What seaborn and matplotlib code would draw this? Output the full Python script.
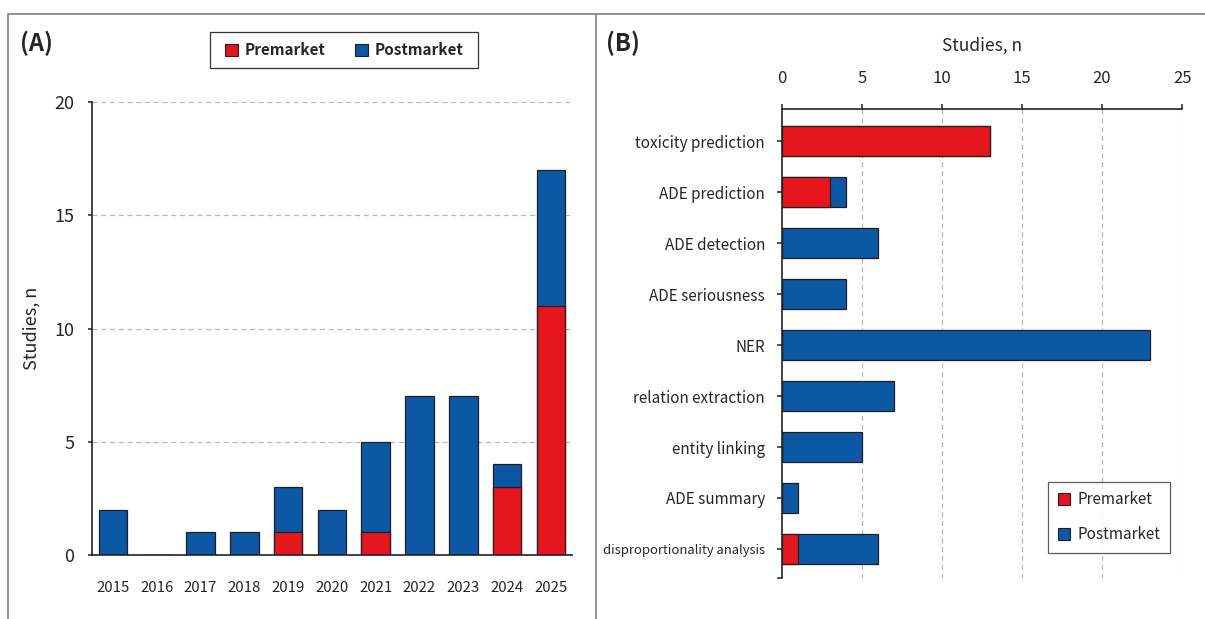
import matplotlib
matplotlib.use("Agg")
import matplotlib.pyplot as plt
from matplotlib.patches import Patch, Rectangle
from matplotlib.lines import Line2D
import seaborn as sns
import pandas as pd
import numpy as np

# ---- data -------------------------------------------------------------
years = ["2015", "2016", "2017", "2018", "2019", "2020", "2021", "2022", "2023", "2024", "2025"]
year_premarket = [0, 0, 0, 0, 1, 0, 1, 0, 0, 3, 11]
year_postmarket = [2, 0, 1, 1, 2, 2, 4, 7, 7, 1, 6]

tasks = ["toxicity prediction", "ADE prediction", "ADE detection", "ADE seriousness", "NER",
         "relation extraction", "entity linking", "ADE summary", "disproportionality analysis"]
task_premarket = [13, 3, 0, 0, 0, 0, 0, 0, 1]
task_postmarket = [0, 1, 6, 4, 23, 7, 5, 1, 5]

series_labels = ["Premarket", "Postmarket"]
RED = "#E5161D"
BLUE = "#0D58A5"
EDGE = "#1f1f1f"
GRID = "#b8b8b8"
INK = "#222222"

sns.set_theme(style="white")
plt.rcParams["font.family"] = ["Noto Sans CJK KR", "DejaVu Sans"]

W, H = 1205, 619
fig = plt.figure(figsize=(W / 100, H / 100), dpi=100)

df_year = pd.DataFrame({"year": years, "pre": year_premarket,
                        "total": np.add(year_premarket, year_postmarket)})
df_task = pd.DataFrame({"task": tasks, "pre": task_premarket,
                        "total": np.add(task_premarket, task_postmarket)})

# ---- panel A: studies per year --------------------------------------
axA = fig.add_axes([0.0763, 0.1034, 0.3983, 0.7318])
sns.barplot(data=df_year, x="year", y="total", color=BLUE, saturation=1, width=0.65,
            edgecolor=EDGE, linewidth=0.9, ax=axA)
sns.barplot(data=df_year, x="year", y="pre", color=RED, saturation=1, width=0.65,
            edgecolor=EDGE, linewidth=0.9, ax=axA)
axA.set_ylim(0, 20)
axA.set_xlim(-0.48, 10.48)
axA.set_yticks([0, 5, 10, 15, 20])
for v in [5, 10, 15, 20]:
    axA.axhline(v, color=GRID, lw=0.9, ls=(0, (4, 3)), zorder=0)
axA.set_xlabel("")
axA.set_ylabel("Studies, n", fontsize=13, labelpad=10)
sns.despine(ax=axA, top=True, right=True)
for s in ["left", "bottom"]:
    axA.spines[s].set_color(INK)
    axA.spines[s].set_linewidth(1.2)
axA.tick_params(axis="y", which="major", left=True, direction="out", length=3,
                width=1.1, color=INK, labelsize=13, pad=9.5)
axA.tick_params(axis="x", bottom=False, labelsize=10.8, pad=13)

fig.text(20 / W, 1 - 43 / H, "(A)", fontsize=17, fontweight="bold", va="center", ha="left")

handles = [Patch(facecolor=RED, edgecolor=EDGE, lw=0.8),
           Patch(facecolor=BLUE, edgecolor=EDGE, lw=0.8)]
legA = fig.legend(handles, series_labels, ncol=2, loc="center",
                  bbox_to_anchor=(344 / W, 1 - 50 / H),
                  prop={"size": 11, "weight": "bold"}, handlelength=0.85, handleheight=0.85,
                  handletextpad=0.45, columnspacing=1.9, frameon=False, borderpad=0.65)

# ---- panel B: studies per task --------------------------------------
axB = fig.add_axes([0.649, 0.0662, 0.332, 0.7577])
sns.barplot(data=df_task, y="task", x="total", color=BLUE, saturation=1, width=0.6,
            edgecolor=EDGE, linewidth=0.9, orient="h", ax=axB)
sns.barplot(data=df_task, y="task", x="pre", color=RED, saturation=1, width=0.6,
            edgecolor=EDGE, linewidth=0.9, orient="h", ax=axB)
axB.set_xlim(0, 25)
axB.set_ylim(8.57, -0.63)
axB.set_xticks([0, 5, 10, 15, 20, 25])
for v in [5, 10, 15, 20, 25]:
    axB.axvline(v, color=GRID, lw=0.9, ls=(0, (4, 3)), zorder=0)
axB.xaxis.tick_top()
axB.xaxis.set_label_position("top")
axB.set_xlabel("Studies, n", fontsize=12.5, labelpad=14)
axB.set_ylabel("")
for s in ["bottom", "right"]:
    axB.spines[s].set_visible(False)
for s in ["left", "top"]:
    axB.spines[s].set_color(INK)
    axB.spines[s].set_linewidth(1.2)
axB.set_yticks([8.57], minor=True)
axB.tick_params(axis="x", which="major", top=True, bottom=False, direction="out",
                length=3.6, width=1.1, color=INK, labelsize=12, pad=12)
axB.tick_params(axis="y", which="both", left=True, direction="out", length=3.6,
                width=1.1, color=INK, labelsize=11, pad=8.6)
for lab in axB.get_yticklabels():
    if lab.get_text() == "disproportionality analysis":
        lab.set_fontsize(9.4)

legB = axB.legend(handles, series_labels, loc="lower right",
                  bbox_to_anchor=(1170 / W, 1 - 553 / H), bbox_transform=fig.transFigure,
                  prop={"size": 11}, handlelength=0.8, handleheight=0.8,
                  handletextpad=0.45, labelspacing=1.15, frameon=True, fancybox=False,
                  borderpad=0.65, borderaxespad=0)
legB.get_frame().set_edgecolor("#333333")
legB.get_frame().set_linewidth(0.9)

fig.text(606 / W, 1 - 43 / H, "(B)", fontsize=17, fontweight="bold", va="center", ha="left")

# frame around the top legend, a little wider than the legend's own padding
fig.canvas.draw()
bb = legA.get_window_extent(fig.canvas.get_renderer())
padx = 5
fig.add_artist(Rectangle(((bb.x0 - padx) / W, bb.y0 / H), (bb.width + 2 * padx) / W,
                         bb.height / H, transform=fig.transFigure, fill=False,
                         edgecolor="#333333", lw=0.9))

# ---- panel frame ----------------------------------------------------
frame_kw = dict(color="#8a8a8a", lw=1.3, transform=fig.transFigure)
top = 1 - 14 / H
fig.add_artist(Line2D([8 / W, 1.0], [top, top], **frame_kw))
fig.add_artist(Line2D([8 / W, 8 / W], [0, top], **frame_kw))
fig.add_artist(Line2D([596 / W, 596 / W], [0, top], **frame_kw))

fig.savefig("out.png", dpi=100, facecolor="white")
